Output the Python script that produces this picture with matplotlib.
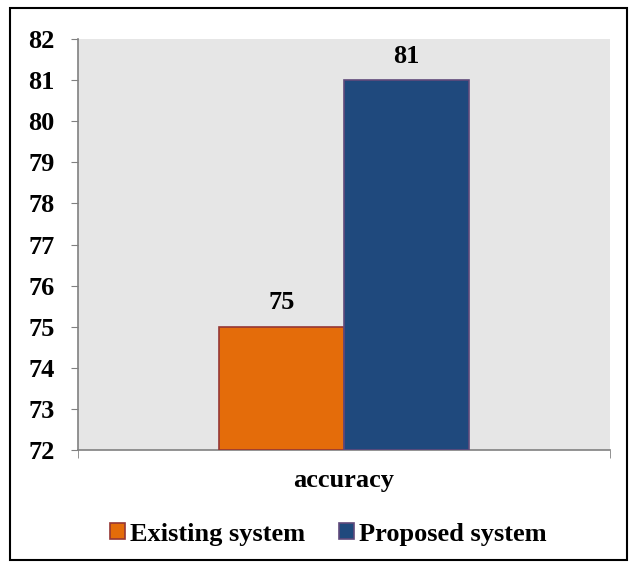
import matplotlib
matplotlib.use('Agg')
import matplotlib.pyplot as plt
from matplotlib.patches import Rectangle

# data
category = 'accuracy'
series = ['Existing system', 'Proposed system']
values = [75, 81]
colors = ['#E46C0A', '#1F497D']
edges = ['#953735', '#604A7B']

plt.rcParams['font.family'] = ['Liberation Serif', 'DejaVu Serif']
plt.rcParams['font.weight'] = 'bold'
FS = 19

fig = plt.figure(figsize=(6.37, 5.68), dpi=100)
ax = fig.add_axes([78 / 637, 118 / 568, 532 / 637, 411 / 568])
ax.set_facecolor('#E6E6E6')

width = 0.235
offsets = [-width / 2, width / 2]
for name, v, c, e, off in zip(series, values, colors, edges, offsets):
    ax.bar(off, v - 72, width, bottom=72, color=c, edgecolor=e, lw=1.2, label=name, zorder=3)
    ax.text(off, v + 0.3, str(v), ha='center', va='bottom', fontsize=FS, fontweight='bold')

ax.set_xlim(-0.5, 0.5)
ax.set_ylim(72, 82)
ax.set_yticks(range(72, 83))
ax.set_xticks([0])
ax.set_xticklabels([category])
ax.set_xticks([-0.5, 0.5], minor=True)
ax.tick_params(axis='x', which='major', length=0, pad=14, labelsize=FS)
ax.tick_params(axis='x', which='minor', length=6, color='#808080', direction='out')
ax.tick_params(axis='y', length=5, color='#808080', labelsize=FS, pad=12)
for lab in ax.get_xticklabels() + ax.get_yticklabels():
    lab.set_fontweight('bold')
for s in ['top', 'right']:
    ax.spines[s].set_visible(False)
for s in ['left', 'bottom']:
    ax.spines[s].set_color('#808080')
    ax.spines[s].set_linewidth(1.2)

fig.legend(loc='center', bbox_to_anchor=(328.5 / 637, 34 / 568), ncol=2, frameon=False,
           prop={'size': FS, 'weight': 'bold'}, handlelength=0.55, handleheight=0.55,
           handletextpad=0.2, columnspacing=1.3, borderaxespad=0, borderpad=0)

fig.add_artist(Rectangle((10 / 637, 8 / 568), 617 / 637, 552 / 568, transform=fig.transFigure,
                         fill=False, edgecolor='black', lw=1.5))

fig.savefig('out.png', dpi=100)
